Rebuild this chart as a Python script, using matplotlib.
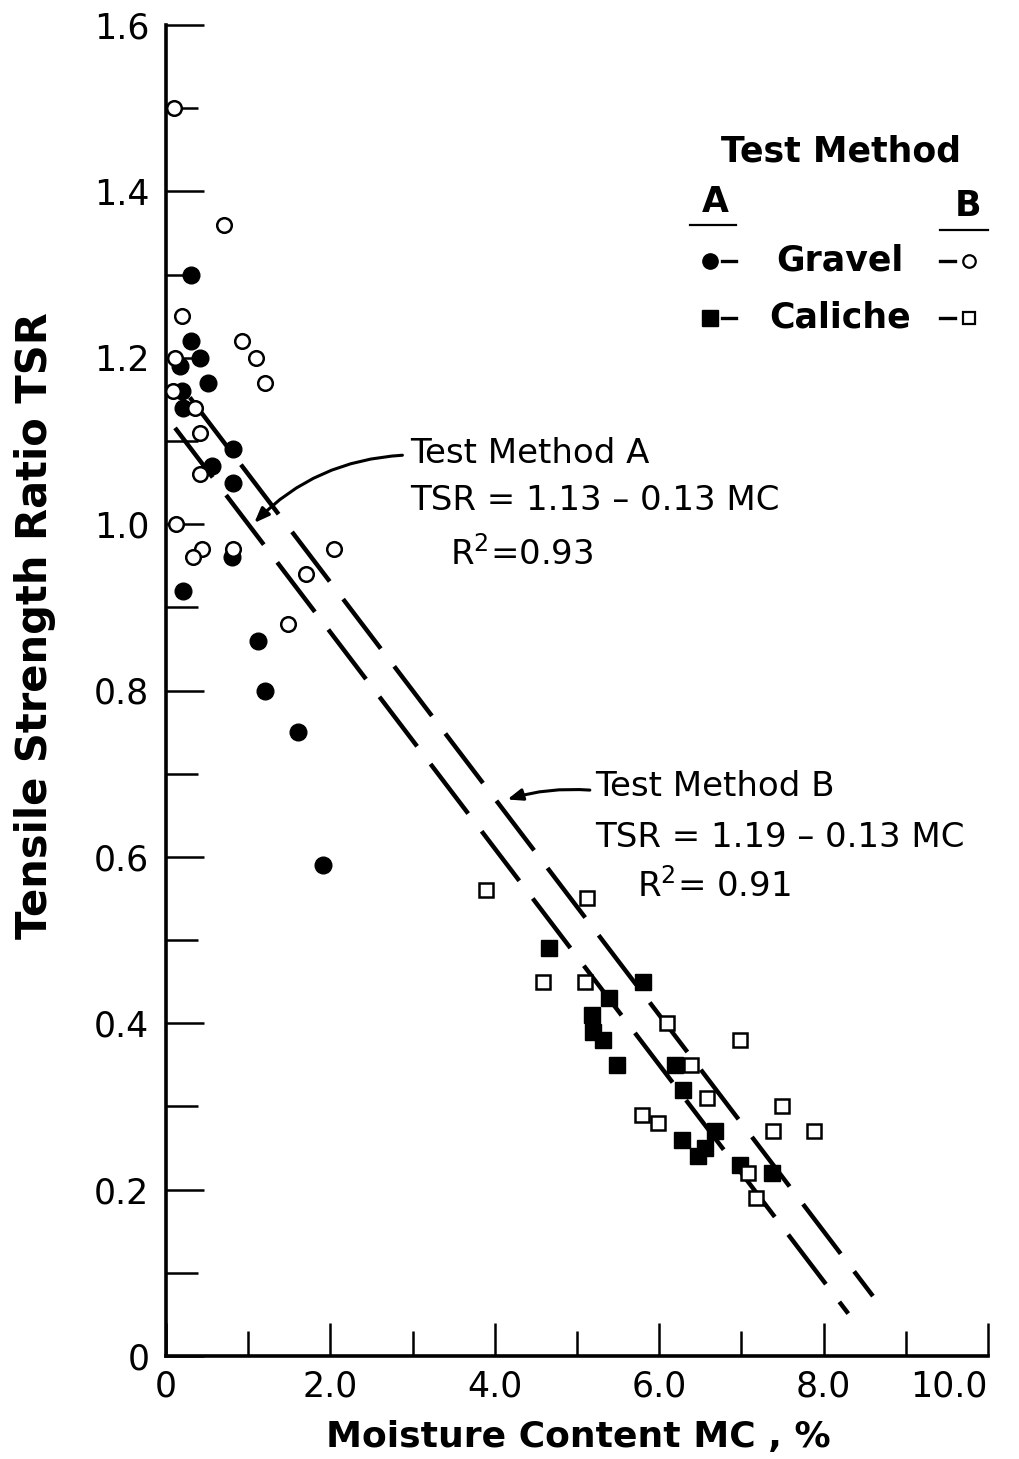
import numpy as np
import matplotlib
matplotlib.use("Agg")
import matplotlib.pyplot as plt

# ============================================
# DATA
# ============================================

# Gravel, test method A (filled circles)
gravel_a_mc = [0.30, 0.31, 0.41, 0.17, 0.51, 0.19, 0.21, 0.82, 0.56, 0.82,
               0.80, 0.21, 1.12, 1.20, 1.61, 1.91]
gravel_a_tsr = [1.30, 1.22, 1.20, 1.19, 1.17, 1.16, 1.14, 1.09, 1.07, 1.05,
                0.96, 0.92, 0.86, 0.80, 0.75, 0.59]

# Gravel, test method B (open circles)
gravel_b_mc = [0.10, 0.71, 0.20, 0.92, 1.10, 1.20, 0.11, 0.09, 0.35, 0.41,
               0.41, 0.12, 0.44, 0.33, 0.82, 2.04, 1.70, 1.48]
gravel_b_tsr = [1.50, 1.36, 1.25, 1.22, 1.20, 1.17, 1.20, 1.16, 1.14, 1.11,
                1.06, 1.00, 0.97, 0.96, 0.97, 0.97, 0.94, 0.88]

# Caliche, test method A (filled squares)
caliche_a_mc = [4.66, 5.80, 5.39, 5.18, 5.20, 5.32, 5.49, 6.19, 6.29, 6.68,
                6.28, 6.56, 6.47, 6.98, 7.37]
caliche_a_tsr = [0.49, 0.45, 0.43, 0.41, 0.39, 0.38, 0.35, 0.35, 0.32, 0.27,
                 0.26, 0.25, 0.24, 0.23, 0.22]

# Caliche, test method B (open squares)
caliche_b_mc = [3.89, 5.12, 4.59, 5.10, 6.09, 6.98, 6.39, 6.58, 7.49, 5.79,
                5.98, 7.38, 7.88, 7.08, 7.18]
caliche_b_tsr = [0.56, 0.55, 0.45, 0.45, 0.40, 0.38, 0.35, 0.31, 0.30, 0.29,
                 0.28, 0.27, 0.27, 0.22, 0.19]

# regression lines: TSR = a - b * MC, drawn over the MC range shown
fit_a = (1.13, 0.13)
fit_b = (1.19, 0.13)
range_a = (0.11, 8.30)
range_b = (0.29, 8.60)

x_ticklabels = ["0", "2.0", "4.0", "6.0", "8.0", "10.0"]
y_ticklabels = ["0", "0.2", "0.4", "0.6", "0.8", "1.0", "1.2", "1.4", "1.6"]

# ============================================
# FIGURE
# ============================================

plt.rcParams["font.family"] = ["DejaVu Sans"]

fig = plt.figure(figsize=(10.2, 14.59), dpi=100)
ax = fig.add_axes([166 / 1020, 1 - 1356 / 1459, 822 / 1020, 1331 / 1459])

ax.set_xlim(0, 10)
ax.set_ylim(0, 1.6)

for side in ["top", "right"]:
    ax.spines[side].set_visible(False)
for side in ["left", "bottom"]:
    ax.spines[side].set_linewidth(2.6)
    ax.spines[side].set_color("black")

ax.set_xticks(np.arange(0, 10.1, 2.0))
ax.set_xticks(np.arange(1, 10, 2.0), minor=True)
ax.set_yticks(np.arange(0, 1.61, 0.2))
ax.set_yticks(np.arange(0.1, 1.6, 0.2), minor=True)
ax.set_xticklabels(x_ticklabels)
ax.set_yticklabels(y_ticklabels)
ax.get_xticklabels()[-1].set_ha("right")

ax.tick_params(axis="x", which="major", direction="in", length=24, width=1.8,
               pad=10, labelsize=25)
ax.tick_params(axis="x", which="minor", direction="in", length=18, width=1.8)
ax.tick_params(axis="y", which="major", direction="in", length=27, width=1.8,
               pad=12, labelsize=25)
ax.tick_params(axis="y", which="minor", direction="in", length=23, width=1.8)

# dashed regression lines
for (a, b), (x0, x1) in [(fit_a, range_a), (fit_b, range_b)]:
    xs = np.array([x0, x1])
    ax.plot(xs, a - b * xs, color="black", lw=3.2, dashes=(14, 5),
            solid_capstyle="butt", dash_capstyle="butt", zorder=2)

# data points
ax.plot(gravel_a_mc, gravel_a_tsr, "o", ms=12, color="black", zorder=3,
        clip_on=False)
ax.plot(gravel_b_mc, gravel_b_tsr, "o", ms=10.5, mfc="white", mec="black",
        mew=1.8, zorder=3, clip_on=False)
ax.plot(caliche_a_mc, caliche_a_tsr, "s", ms=11, color="black", zorder=3)
ax.plot(caliche_b_mc, caliche_b_tsr, "s", ms=10, mfc="white", mec="black",
        mew=1.8, zorder=3)

# axis labels (centred on the reference positions)
ax.set_xlabel("Moisture Content MC , %", fontsize=26, fontweight="bold",
              va="center")
ax.xaxis.set_label_coords(0.502, -0.061)
ax.set_ylabel("Tensile Strength Ratio TSR", fontsize=30, fontweight="bold",
              va="center")
ax.yaxis.set_label_coords(-0.159, 0.549)

# annotations for the two fits
txt = dict(fontsize=24.5, color="black", va="center", ha="left")
ax.text(2.97, 1.085, "Test Method A", **txt)
ax.text(2.97, 1.029, "TSR = 1.13 \u2013 0.13 MC", **txt)
ax.text(3.45, 0.965, "R$^\\mathregular{2}$=0.93", **txt)
ax.annotate("", xy=(1.05, 0.999), xytext=(2.91, 1.083),
            arrowprops=dict(arrowstyle="-|>,head_length=0.9,head_width=0.35",
                            lw=2.2, color="black",
                            connectionstyle="arc3,rad=0.2"))

ax.text(5.22, 0.684, "Test Method B", **txt)
ax.text(5.22, 0.623, "TSR = 1.19 \u2013 0.13 MC", **txt)
ax.text(5.73, 0.566, "R$^\\mathregular{2}$= 0.91", **txt)
ax.annotate("", xy=(4.12, 0.668), xytext=(5.19, 0.680),
            arrowprops=dict(arrowstyle="-|>,head_length=0.9,head_width=0.35",
                            lw=2.2, color="black",
                            connectionstyle="arc3,rad=0.1"))

# legend block (hand drawn, like the original)
T = ax.transAxes
ax.text(0.821, 0.905, "Test Method", transform=T, fontsize=25,
        fontweight="bold", ha="center", va="center")
ax.text(0.668, 0.867, "A", transform=T, fontsize=25, fontweight="bold",
        ha="center", va="center")
ax.text(0.976, 0.864, "B", transform=T, fontsize=25, fontweight="bold",
        ha="center", va="center")
ax.plot([0.638, 0.694], [0.850, 0.850], color="black", lw=1.6, transform=T,
        clip_on=False)
ax.plot([0.942, 1.0], [0.846, 0.846], color="black", lw=1.6, transform=T,
        clip_on=False)

rows = [(0.823, "Gravel", "o"), (0.780, "Caliche", "s")]
for y, name, m in rows:
    ax.plot(0.662, y, m, ms=11, color="black", transform=T, clip_on=False)
    ax.plot([0.677, 0.694], [y, y], color="black", lw=2.4, transform=T,
            clip_on=False)
    ax.text(0.820, y, name, transform=T, fontsize=25, fontweight="bold",
            ha="center", va="center")
    ax.plot([0.942, 0.960], [y, y], color="black", lw=2.4, transform=T,
            clip_on=False)
    ax.plot(0.977, y, m, ms=9, mfc="white", mec="black", mew=1.6,
            transform=T, clip_on=False)

fig.savefig("out.png", dpi=100, facecolor="white")
